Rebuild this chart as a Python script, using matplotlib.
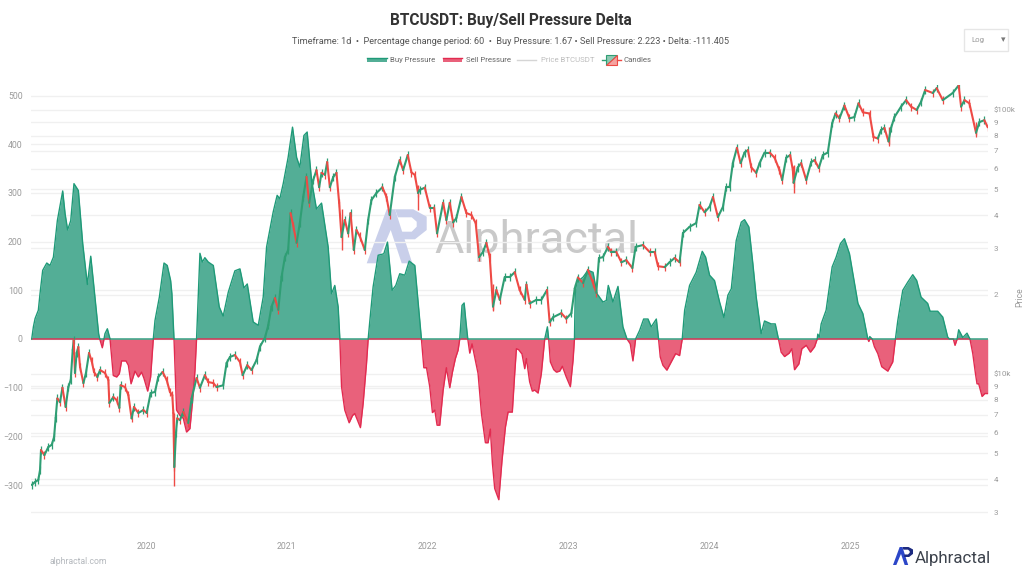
import numpy as np
import matplotlib
matplotlib.use("Agg")
import matplotlib.pyplot as plt
from matplotlib.collections import LineCollection
from matplotlib.patches import Rectangle, Polygon
from matplotlib.lines import Line2D

plt.rcParams['font.family'] = ['Roboto', 'DejaVu Sans']

# Years are counted from the start of 2019
delta_year = [.189,.201,.213,.236,.248,.267,.296,.319,.343,.371,.409,.426,.444,.466,.489,.520,.551,.584,.608,.626,.664,.672,.690,.702,.709,.726,.745,
 .768,.792,.811,.827,.858,.875,.894,.922,.946,.969,.986,1.012,1.033,1.052,1.064,1.095,1.128,1.151,1.175,1.184,1.199,
 1.217,1.241,1.265,1.288,1.312,1.331,1.348,1.359,1.383,1.400,1.418,1.442,1.478,1.520,1.548,1.584,1.631,1.667,1.695,1.719,1.761,1.797,1.832,1.856,1.903,1.931,1.950,1.974,2.009,2.040,2.069,2.092,2.121,2.144,2.175,2.210,2.246,2.293,2.317,2.340,2.364,2.376,
 2.388,2.411,2.442,2.466,2.482,2.522,2.541,2.565,2.577,2.589,2.612,2.648,2.688,2.714,2.747,2.773,2.801,2.837,2.868,2.908,2.955,
 2.972,2.991,3.014,3.033,3.050,3.066,3.085,3.109,3.132,3.156,3.175,3.196,3.215,3.227,3.243,3.258,3.270,3.284,
 3.298,3.314,3.333,3.357,3.381,3.409,3.428,3.444,3.459,3.475,3.504,3.527,3.551,3.570,3.600,3.617,3.629,3.645,3.669,3.688,3.700,3.723,3.742,3.759,3.783,3.806,3.830,3.849,3.858,
 3.870,3.894,3.913,3.936,3.955,3.983,4.012,4.031,4.041,4.047,4.059,4.102,4.137,4.173,4.201,4.243,4.267,4.281,4.314,4.350,4.385,4.414,
 4.437,4.456,4.475,4.504,4.532,4.563,4.586,4.622,4.638,4.650,4.669,4.697,4.728,4.759,4.787,4.806,
 4.823,4.858,4.905,4.948,4.972,5.000,5.035,5.071,5.102,5.130,5.154,5.189,5.225,5.248,5.279,5.307,5.331,5.366,5.390,5.437,5.466,5.489,
 5.508,5.532,5.565,5.584,5.603,5.634,5.655,5.686,5.716,5.745,5.764,5.768,5.780,5.792,5.827,5.870,5.898,5.929,5.957,5.993,6.017,6.053,6.088,6.123,6.130,6.137,6.154,
 6.170,6.194,6.222,6.265,6.300,6.319,6.336,6.371,6.407,6.442,6.470,6.501,6.548,6.565,6.619,6.655,6.690,6.702,6.730,6.742,6.757,6.768,6.797,6.827,6.848,
 6.868,6.887,6.898,6.910,6.934,6.953,6.974]
delta_value = [0,25,42,59,93,141,156,151,168,243,304,257,224,243,319,305,196,112,170,120,11,0,-18,0,11,21,0,
 -75,-78,-71,-45,-45,-54,-92,-66,-78,-68,-81,-107,-78,0,38,86,156,151,120,93,0,
 -146,-157,-163,-191,-184,-126,-64,0,176,158,167,158,151,66,47,96,140,144,105,113,35,28,86,189,261,295,288,319,373,435,373,353,418,425,326,267,279,189,93,110,66,0,
 -98,-146,-172,-157,-153,-182,-133,-51,0,38,107,172,175,199,100,110,134,131,160,151,0,
 -59,-59,-98,-151,-146,-177,-177,-105,-59,-100,-68,-40,-23,0,69,74,38,0,
 -29,-10,-37,-71,-153,-213,-213,-185,-256,-307,-330,-249,-181,-150,-150,-71,-20,-22,-31,-61,-40,-88,-107,-105,-111,-71,0,25,0,
 -47,-63,-68,-66,-56,-78,-98,-44,0,100,117,127,141,137,93,76,79,110,76,108,25,0,
 -10,-45,0,18,41,41,25,41,0,-37,-54,-64,-47,-30,-34,0,
 59,110,137,180,168,131,120,76,44,90,103,202,240,245,230,155,86,11,37,31,31,0,
 -27,-36,-29,-20,-63,-51,-20,-13,-27,-16,0,10,4,31,59,148,168,196,206,175,134,73,52,0,-5,5,0,
 -16,-30,-57,-66,-47,0,38,100,117,132,120,86,73,57,57,45,4,0,0,-13,0,19,3,12,0,
 -30,-71,-92,-92,-118,-112,-112]

price_year = [.189,.213,.236,.248,.255,.279,.307,.331,.348,.359,.371,.390,.407,.430,.449,.466,.480,.487,.496,.508,.520,.532,.556,.574,.596,.615,.631,.655,.674,.709,.733,.740,.768,.792,.811,.820,.851,.875,.898,.915,.946,.981,
 1.005,1.033,1.064,1.087,1.118,1.147,1.170,1.187,1.194,1.201,1.213,1.222,1.241,1.265,1.300,1.324,1.359,1.383,1.418,1.442,1.478,1.501,1.548,1.572,1.596,1.631,1.667,1.686,1.719,1.749,1.785,1.809,1.844,1.868,1.891,1.915,1.939,1.962,1.986,
 2.009,2.026,2.045,2.069,2.092,2.116,2.139,2.158,2.187,2.210,2.229,2.246,2.270,2.286,2.305,2.329,2.352,2.371,2.388,2.411,2.435,2.452,2.475,2.494,2.518,2.553,2.577,2.600,2.636,2.678,2.707,2.730,2.766,2.801,2.825,2.858,2.884,2.908,2.931,2.943,2.979,
 3.014,3.045,3.066,3.109,3.132,3.156,3.180,3.203,3.239,3.274,3.310,3.340,3.364,3.392,3.416,3.440,3.463,3.487,3.511,3.546,3.582,3.617,3.652,3.688,3.700,3.723,3.771,3.806,3.846,3.865,3.889,3.948,3.983,
 4.019,4.043,4.066,4.102,4.137,4.173,4.196,4.215,4.243,4.279,4.303,4.338,4.374,4.409,4.452,4.475,4.527,4.574,4.610,4.634,4.681,4.716,4.752,4.787,4.811,4.858,4.905,4.929,4.965,
 5.000,5.024,5.059,5.095,5.118,5.142,5.165,5.194,5.220,5.248,5.272,5.296,5.331,5.355,5.390,5.426,5.461,5.496,5.515,5.544,5.572,5.591,5.596,5.626,5.650,5.686,5.721,5.745,5.775,5.804,5.839,5.870,5.894,5.922,5.957,5.993,
 6.028,6.057,6.088,6.135,6.163,6.194,6.217,6.241,6.270,6.288,6.312,6.359,6.395,6.430,6.470,6.501,6.530,6.584,6.612,6.655,6.726,6.768,6.785,6.809,6.844,6.891,6.915,6.950,6.974]
price_close = [3800,3900,3970,4330,5150,4930,5290,5390,5780,6820,8080,7820,8870,7500,8930,9490,12330,13450,10090,12010,12660,10630,9240,10090,12010,11180,10180,9740,10350,10090,9490,7770,8180,7970,7440,9060,8930,8320,6790,7500,7120,7300,
 7120,8470,8550,9740,10180,9490,8550,8320,7120,4440,5980,6790,6690,7180,6520,8080,9650,8870,9900,9320,9240,8930,9060,11000,11600,11800,11100,9900,10800,10350,11300,12700,13700,15300,18000,19400,17500,23300,27700,
 29500,40700,36500,31400,37300,46800,55800,44500,54300,59200,51000,57800,56800,63500,51000,55800,57800,44500,33000,38300,34100,40700,29500,35100,33200,29500,38300,45600,48500,51000,46800,40000,55800,64600,59200,67500,58000,56800,48500,49800,50800,
 42700,42700,34100,44500,38300,44500,37500,39000,46800,40700,40000,37300,27700,29000,31400,27700,18000,20800,19100,23300,23300,24300,20800,19100,21800,18500,19100,19100,20800,15700,16400,17000,16200,
 17000,21100,23200,22100,24800,22100,20300,27500,27700,30300,29000,29000,26500,27000,25200,30300,30800,29000,29000,25600,25400,26500,27500,26500,34200,36100,37300,43700,41000,
 43000,46800,39300,43000,51000,51000,62900,71900,62900,69000,70500,60600,57800,62900,69000,69000,66000,59200,54300,66000,67500,59200,53000,60600,62900,54300,63500,64600,60300,67500,69000,89000,97000,93000,104000,93000,
 94000,106000,98000,97000,79000,78000,84000,85500,76000,85500,94000,103000,109000,103000,100000,107500,119000,116000,121000,109000,116000,124000,103000,109000,106000,82000,90000,91500,86000]

wick_year = [1.197, 2.391, 2.931, 3.463, 5.596, 6.891, 6.270]
wick_low = [3750, 29500, 41800, 17500, 48500, 80500, 74500]
wick_high = [7100, 42000, 52000, 22000, 62000, 90000, 86000]

delta_ticks = [-300, -200, -100, 0, 100, 200, 300, 400, 500]
delta_tick_labels = ['\u2212300', '\u2212200', '\u2212100', '0', '100', '200', '300', '400', '500']
price_ticks = [3000,4000,5000,6000,7000,8000,9000,10000,20000,30000,40000,50000,60000,70000,80000,90000,100000]
price_tick_labels = ['3','4','5','6','7','8','9','$10k','2','3','4','5','6','7','8','9','$100k']
year_ticks = [2020, 2021, 2022, 2023, 2024, 2025]

W, H = 1024, 585
fig = plt.figure(figsize=(W/100, H/100), dpi=100, facecolor='white')
def fx(p): return p / W
def fy(p): return 1 - p / H

GREEN_F, GREEN_L = '#53ae96', '#1f9a78'
RED_F, RED_L = '#e9617b', '#e22b50'
CUP, CDN = '#2f9e74', '#ee4a45'
GRID = '#f0f0f0'
TXT = '#9a9a9a'

L, R, T, B = 31, 988, 85, 525
rect = [fx(L), 1 - B / H, (R - L) / W, (B - T) / H]
ax_p = fig.add_axes(rect, zorder=1)           # price scale and its grid
ax = fig.add_axes(rect, zorder=2)             # delta areas
ax_c = fig.add_axes(rect, zorder=3)           # candles
ax.patch.set_visible(False)
ax_c.patch.set_visible(False)

XLIM = (2019.184, 2025.976)
PLIM = (10 ** (4 + (374 - B) / 264), 10 ** (4 + (374 - T) / 264))

x = 2019 + np.array(delta_year)
d = np.array(delta_value, dtype=float)
buy = np.maximum(d, 0)
sell = np.minimum(d, 0)
ax.fill_between(x, 0, sell, color=RED_F, lw=0, zorder=2)
ax.plot(x, sell, color=RED_L, lw=1.0, zorder=3, solid_joinstyle='round')
ax.fill_between(x, 0, buy, color=GREEN_F, lw=0, zorder=2)
ax.plot(x, buy, color=GREEN_L, lw=1.0, zorder=3, solid_joinstyle='round')
ax.set_ylim((339 - B) / .487, (339 - T) / .487)
ax.set_xlim(*XLIM)
ax.set_yticks(delta_ticks)
ax.set_yticklabels(delta_tick_labels)
ax.grid(axis='y', color=GRID, lw=1, zorder=0)
ax.set_axisbelow(True)
ax.tick_params(axis='y', length=0, pad=6, labelsize=6.3, labelcolor=TXT)
ax.set_xticks(year_ticks)
ax.set_xticklabels([str(y) for y in year_ticks])
ax.tick_params(axis='x', length=0, pad=12, labelsize=6.3, labelcolor=TXT)

ax_p.set_xlim(*XLIM)
ax_p.set_yscale('log')
ax_p.set_ylim(*PLIM)
ax_p.yaxis.tick_right()
ax_p.set_yticks(price_ticks)
ax_p.set_yticklabels(price_tick_labels)
ax_p.minorticks_off()
ax_p.grid(axis='y', color=GRID, lw=1, zorder=0)
ax_p.tick_params(axis='y', length=0, pad=4, labelsize=5.8, labelcolor=TXT)
ax_p.set_xticks([])

px = 2019 + np.array(price_year)
pc = np.array(price_close, dtype=float)
ax_c.set_xlim(*XLIM)
ax_c.set_yscale('log')
ax_c.set_ylim(*PLIM)
ax_c.axis('off')
segs, cols = [], []
for i in range(1, len(px)):
    segs.append([(px[i - 1], pc[i - 1]), (px[i], pc[i])])
    cols.append(CUP if pc[i] >= pc[i - 1] else CDN)
ax_c.vlines(px, pc * 0.965, pc * 1.035, colors=[CUP] + cols, lw=0.9, zorder=3)
ax_c.vlines(2019 + np.array(wick_year), wick_low, wick_high, colors=CDN, lw=1.0, zorder=3)
ax_c.add_collection(LineCollection(segs, colors=cols, lw=1.5, zorder=4, capstyle='round'))

for a in (ax, ax_p):
    for s in a.spines.values():
        s.set_visible(False)

fig.text(fx(511), fy(20), 'BTCUSDT: Buy/Sell Pressure Delta', ha='center', va='center',
         fontsize=11.2, fontweight='bold', color='#333333')
fig.text(fx(511), fy(42), 'Timeframe: 1d  \u2022  Percentage change period: 60  \u2022  Buy Pressure: 1.67 \u2022 Sell Pressure: 2.223 \u2022 Delta: -111.405',
         ha='center', va='center', fontsize=6.6, color='#555555')

# legend
def swatch(x0, x1, color, edge):
    fig.add_artist(Rectangle((fx(x0), fy(62)), (x1 - x0) / W, 4 / H, transform=fig.transFigure, fc=color, ec='none'))
    fig.add_artist(Line2D([fx(x0), fx(x1)], [fy(58)] * 2, color=edge, lw=1, transform=fig.transFigure))
swatch(367, 387, GREEN_F, GREEN_L)
swatch(443, 462, RED_F, RED_L)
fig.add_artist(Line2D([fx(517), fx(536)], [fy(60)] * 2, color='#d5d5d5', lw=1, transform=fig.transFigure))
fig.add_artist(Line2D([fx(602), fx(606)], [fy(60)] * 2, color=CUP, lw=1, transform=fig.transFigure))
fig.add_artist(Line2D([fx(617), fx(621)], [fy(60)] * 2, color=CDN, lw=1, transform=fig.transFigure))
def fpoly(pts, **kw):
    fig.add_artist(Polygon([(fx(a), fy(b)) for a, b in pts], closed=True, transform=fig.transFigure, **kw))
fpoly([(606, 65), (606, 55), (617, 55)], fc='#8fc9b3', ec=CUP, lw=.8)
fpoly([(606, 65), (617, 65), (617, 55)], fc='#f5a3a0', ec=CDN, lw=.8)
for xx, s, c in [(390.5, 'Buy Pressure', '#666666'), (466, 'Sell Pressure', '#666666'), (541, 'Price BTCUSDT', '#bdbdbd'), (624, 'Candles', '#666666')]:
    fig.text(fx(xx), fy(60), s, ha='left', va='center', fontsize=5.6, color=c)

# Log selector
fig.add_artist(Rectangle((fx(964), fy(51)), 44 / W, 22 / H, transform=fig.transFigure, fc='white', ec='#e6e6e6', lw=1))
fig.text(fx(971), fy(40), 'Log', ha='left', va='center', fontsize=5.6, color='#999999')
fig.text(fx(1001), fy(40), '\u25be', ha='left', va='center', fontsize=6.5, color='#777777')

fig.text(fx(1020), fy(297), 'Price', rotation=90, ha='center', va='center', fontsize=6.2, color=TXT)
fig.text(fx(50), fy(562), 'alphractal.com', ha='left', va='center', fontsize=6.2, color='#b4b8bd')

# AP logo outlines, relative to the logo's top-left corner at full watermark size
LOGO_A = [(0, 54), (10, 54), (24, 20.7), (35, 54), (45.6, 54), (28.3, 0), (20, 0)]
LOGO_P = [(28.3, 0), (46.6, 0), (60, 7.4), (60, 20.7), (48.3, 30), (33.3, 30), (34.3, 22.4), (45, 22.4),
          (50, 17.4), (50, 12.4), (45, 8), (31.3, 8)]
def logo(x0, y0, scale, ca, cp, zorder):
    for shape, col in ((LOGO_A, ca), (LOGO_P, cp)):
        pts = [(fx(x0 + a * scale), fy(y0 + b * scale)) for a, b in shape]
        fig.add_artist(Polygon(pts, closed=True, transform=fig.transFigure, fc=col, ec='none', zorder=zorder))

# watermark sits between the price grid and the areas
logo(366.7, 209.3, 1.0, '#c9cfea', '#c9cfea', 1.5)
fig.text(fx(434), fy(240), 'Alphractal', fontsize=32.5, color='#c9c9c9', ha='left', va='center', zorder=1.5)

# bottom logo
logo(893, 547, 1 / 3, '#2b46c8', '#1c2a80', 4)
fig.text(fx(915), fy(558), 'Alphractal', fontsize=12.2, color='#3c424c', ha='left', va='center')

fig.savefig('out.png', dpi=100)
